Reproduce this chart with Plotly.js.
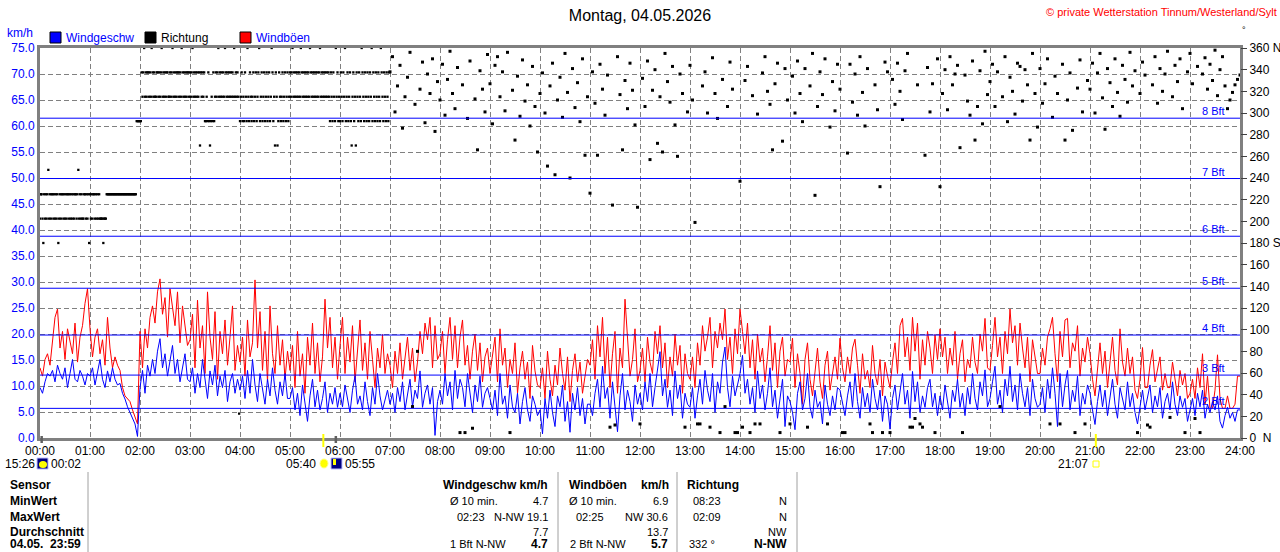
<!DOCTYPE html>
<html><head><meta charset="utf-8">
<script src="https://cdn.plot.ly/plotly-3.0.1.min.js"></script>
<style>html,body{margin:0;padding:0;background:#fff;overflow:hidden}#chart{width:1280px;height:552px}</style>
</head><body><div id="chart"></div>
<script>
// ---------------- data ----------------
const sampleStepMin = 3;          // wind speed / gust / late direction sampling (minutes)
const speedKmh = [
9.7,8.6,10.8,12.4,11.9,13.0,10.8,14.0,12.4,11.3,13.5,9.7,12.4,15.1,11.3,10.8,13.0,11.9,10.2,12.4,
11.9,13.5,10.2,12.4,15.1,11.3,9.7,12.9,10.8,13.5,11.3,10.2,10.5,8.6,7.5,6.0,4.8,3.8,2.7,0.3,
9.7,13.0,8.6,14.0,11.9,15.1,12.4,16.7,19.1,13.5,16.2,11.9,14.6,17.8,12.4,15.1,10.8,13.5,16.2,11.3,
10.8,13.5,8.6,12.4,9.7,15.1,11.3,7.6,12.9,10.2,14.0,8.1,11.9,9.7,13.0,7.0,10.8,12.4,8.6,11.3,
9.2,11.9,7.6,13.0,8.6,15.1,10.2,7.0,12.4,9.7,6.5,11.3,8.1,13.5,9.2,6.5,10.8,8.1,12.4,7.6,
7.6,9.7,5.4,8.6,4.3,10.2,6.5,3.2,8.1,11.3,6.0,9.2,5.4,7.6,10.8,4.9,8.6,6.5,9.7,5.9,
8.6,6.0,10.2,7.6,4.9,9.2,11.9,6.5,8.1,5.4,10.8,7.0,4.3,9.7,6.5,12.4,8.1,5.4,7.6,9.2,
6.5,8.6,4.9,9.7,7.0,10.8,5.4,8.1,11.3,6.0,9.2,7.6,12.9,5.9,8.6,10.2,6.5,9.7,0.5,7.0,
9.2,6.5,12.4,8.1,10.8,5.4,13.0,7.6,11.3,9.7,6.0,12.4,8.6,4.9,10.2,7.0,11.9,5.9,8.6,9.7,
7.6,5.4,9.2,4.3,12.4,6.5,8.1,3.8,10.2,6.0,4.9,8.6,2.7,7.0,9.7,5.4,3.2,8.1,6.5,4.3,
5.4,0.8,7.6,3.8,9.2,4.9,2.2,8.1,6.0,10.2,3.2,7.0,1.1,8.6,5.4,9.7,4.3,7.6,2.7,6.5,
6.5,4.3,8.6,11.3,5.9,13.8,7.6,9.7,3.8,10.8,6.0,1.2,8.1,12.4,5.4,9.2,7.0,3.2,10.2,6.5,
8.6,5.4,10.8,7.0,12.4,6.0,9.7,13.5,16.6,8.1,11.3,5.9,9.2,4.3,12.9,7.6,10.2,3.8,8.6,6.5,
5.9,9.7,3.8,8.1,11.3,6.5,13.0,9.2,7.0,12.4,4.9,10.8,8.6,14.6,17.5,9.7,6.0,11.9,8.1,10.2,
12.4,15.9,8.6,11.3,6.5,9.7,4.9,12.9,7.6,10.2,5.4,8.6,13.5,6.0,9.2,3.8,7.6,11.3,2.2,8.1,
7.0,4.9,1.6,8.6,10.8,5.4,7.6,12.4,6.0,3.8,9.2,5.9,7.0,2.7,10.2,6.5,4.3,8.1,5.4,9.7,
9.2,6.5,4.3,8.1,10.8,5.9,12.4,7.0,3.8,9.7,6.0,8.6,4.9,11.3,7.6,5.4,9.2,3.2,8.1,6.5,
1.7,7.6,10.2,5.4,8.6,12.4,6.5,9.2,3.8,12.8,7.0,10.8,4.9,8.1,5.9,9.7,11.3,6.0,8.6,4.3,
8.1,5.4,10.2,6.5,3.8,9.2,7.0,11.3,5.9,8.6,4.3,9.7,6.5,12.4,7.6,5.4,10.8,8.1,13.1,6.0,
7.6,10.8,13.8,6.5,9.2,4.9,11.3,8.1,13.8,7.0,10.2,5.4,12.4,8.6,6.0,9.7,4.3,11.3,7.6,5.9,
6.5,9.7,4.9,11.3,7.6,13.5,8.6,2.2,12.4,6.0,10.2,13.0,5.4,9.2,7.0,11.9,4.3,8.6,6.5,10.2,
8.6,5.4,2.6,7.0,10.2,6.0,9.2,4.3,8.1,11.3,6.5,3.8,9.7,7.6,5.4,10.8,6.0,8.6,4.9,2.7,
6.5,9.2,5.4,7.6,10.2,4.9,8.1,6.0,9.7,3.8,7.0,8.6,5.4,10.8,6.5,4.3,8.1,5.9,7.6,3.2,
5.4,7.6,4.3,8.6,6.0,9.2,3.8,6.5,4.9,7.0,5.4,8.1,3.2,1.9,4.3,5.9,3.8,4.9,3.2,5.4,
5.4];
const gustKmh = [
13.5,11.9,15.1,16.2,14.0,19.4,23.2,24.8,17.3,20.5,15.1,21.0,18.3,16.2,22.1,14.6,19.4,21.6,25.9,28.7,
21.0,15.6,19.4,21.0,16.2,18.9,14.0,23.2,17.3,13.5,15.6,14.0,13.0,9.7,8.1,7.6,7.0,5.4,3.8,2.7,
20.5,13.5,21.0,17.3,23.2,25.4,22.1,28.1,30.6,23.8,27.0,19.4,28.7,24.8,21.6,28.1,18.3,25.4,21.6,17.8,
18.9,23.8,13.5,26.5,17.3,21.6,12.4,28.1,19.4,15.1,24.3,11.3,20.5,16.2,22.7,14.0,19.4,25.4,13.0,17.8,
14.6,19.4,11.9,22.7,15.6,18.3,30.4,17.3,24.3,13.0,20.5,10.8,25.4,16.2,12.4,21.6,14.0,18.9,11.3,16.7,
13.0,17.8,9.7,20.5,11.9,16.2,8.6,19.4,14.0,22.1,12.4,18.3,10.8,15.6,26.7,17.3,23.2,13.5,19.4,11.3,
17.8,23.2,12.4,19.4,14.6,21.6,10.8,16.7,22.7,13.0,18.3,11.3,20.5,15.1,9.7,17.3,13.5,19.9,12.4,16.2,
14.0,9.7,16.7,12.4,18.3,11.3,15.6,19.4,13.0,17.3,10.8,14.6,20.5,16.2,22.1,18.9,23.2,13.5,21.6,15.1,
16.2,20.5,12.4,18.9,23.2,15.1,21.6,13.5,19.4,22.7,14.0,17.8,11.3,16.7,20.0,13.0,18.3,10.8,15.6,17.3,
12.4,16.2,19.4,10.8,21.0,14.0,17.3,9.7,15.1,12.4,18.3,8.6,13.5,16.7,11.3,14.6,7.6,17.8,12.9,10.2,
9.7,13.5,7.6,16.7,11.3,8.1,14.0,10.2,17.3,12.4,9.2,15.6,7.0,13.0,16.2,10.8,14.6,8.6,12.4,15.1,
14.0,18.9,11.3,21.6,15.6,23.2,12.4,19.4,9.7,16.2,20.5,8.6,17.3,13.5,26.7,18.3,11.9,15.1,21.0,10.8,
13.0,17.3,10.8,19.4,14.6,12.4,20.5,16.2,21.6,13.5,18.3,9.7,15.6,11.9,20.0,14.0,17.8,8.6,16.2,12.4,
11.3,15.6,9.7,18.3,14.0,21.6,16.7,19.4,23.2,13.5,20.5,17.3,22.1,18.9,24.8,15.1,19.4,12.4,21.0,16.2,
24.8,20.5,16.2,22.1,13.5,18.9,11.3,20.0,14.6,17.3,10.8,15.6,21.6,13.0,18.3,9.7,16.7,19.4,11.9,15.1,
14.6,19.2,9.7,16.2,12.4,6.5,15.1,18.3,11.3,8.1,13.5,17.3,10.8,7.6,14.0,16.7,9.2,12.9,15.6,11.3,
19.2,13.5,10.8,15.6,12.4,17.3,19.0,14.0,8.6,16.2,11.3,13.0,9.7,17.8,12.4,10.2,15.1,8.1,14.6,11.9,
9.7,14.6,18.3,12.4,21.6,23.0,15.6,19.4,13.0,23.2,16.7,22.1,11.3,18.9,14.0,20.5,17.3,12.4,19.9,15.1,
21.0,15.6,19.4,12.4,17.3,14.0,20.5,11.3,16.2,18.9,10.8,15.1,13.5,19.4,14.6,12.4,20.0,16.7,23.0,13.5,
13.0,17.8,23.2,15.6,19.4,12.4,20.5,16.2,24.8,18.3,21.6,14.0,22.1,17.3,13.5,19.4,10.8,18.9,15.1,12.4,
12.4,17.3,14.0,19.4,21.0,23.2,16.2,10.8,20.5,15.6,22.7,23.0,13.5,18.3,16.7,21.6,11.9,17.3,14.6,19.4,
16.2,11.3,8.1,14.0,18.3,12.4,16.7,9.7,15.1,19.4,13.0,10.2,21.0,14.6,11.9,17.3,12.4,15.6,9.2,7.6,
11.3,17.4,9.7,9.7,14.0,17.0,10.8,13.5,15.6,9.2,12.4,9.7,9.7,14.6,11.3,8.1,13.0,10.2,12.4,7.6,
8.6,11.3,7.6,13.5,9.7,16.2,6.5,11.9,5.7,5.7,9.2,16.0,7.6,5.7,5.7,8.1,5.7,5.7,6.5,11.9,
11.9];
// wind direction 00:00-06:59, one value per minute, as compass sector (1 sector = 22.5 deg, 16 = N)
const dirEarlySector = [
9,10,10,9,8,10,9,10,9,10,11,9,10,9,10,10,9,10,9,10,9,10,8,9,10,9,10,10,9,10,
9,10,9,10,10,9,10,9,10,9,10,9,10,10,9,10,11,9,10,9,10,9,9,10,10,9,10,9,10,8,
10,9,10,9,10,10,9,10,9,10,9,10,9,9,9,9,8,9,9,9,10,10,10,10,10,10,10,10,10,10,
10,10,10,10,10,10,10,10,10,10,10,10,10,10,10,10,10,10,10,10,10,10,10,10,10,10,13,13,13,13,
13,13,15,14,15,16,14,15,14,15,15,14,15,14,16,15,14,15,14,14,15,15,14,15,14,15,16,14,15,14,
15,14,15,15,14,14,15,14,15,16,14,15,14,15,14,15,15,14,15,14,16,15,14,15,14,15,14,15,15,14,
15,14,15,16,14,15,14,15,14,15,14,15,12,15,14,15,14,15,13,13,14,13,15,13,12,13,14,13,15,13,
14,15,14,15,16,14,15,14,15,14,15,14,16,15,14,15,14,15,14,15,14,15,14,16,14,15,14,15,14,1,
13,14,15,13,14,13,15,14,13,16,14,13,15,14,13,14,15,13,14,15,13,14,15,16,13,14,15,13,14,15,
13,14,15,13,14,15,13,14,16,15,13,14,12,15,14,12,13,15,14,13,14,15,13,14,15,13,14,15,13,14,
15,14,15,16,14,15,14,15,14,15,14,15,14,16,15,14,15,14,15,14,15,14,15,14,16,15,14,15,14,15,
14,15,14,15,14,15,16,14,15,14,15,14,15,14,15,14,15,14,13,15,14,13,15,14,13,16,14,15,13,14,
13,15,14,13,15,14,16,13,14,15,13,14,15,13,12,14,15,13,14,12,15,14,13,15,14,13,16,15,14,13,
15,14,13,15,14,13,15,14,16,13,15,14,13,15,14,13,15,14,13,16,15,14,13,15,14,13,15,14,13,15];
const dirLateStartHour = 7;
// wind direction from 07:00, every 3 minutes, degrees
const dirLateDeg = [
338,352,301,325,344,286,315,333,356,29,308,80,322,347,291,336,318,350,283,329,
312,345,298,331,357,318,304,342,5,326,5,295,348,9,313,266,339,322,301,354,
327,290,344,352,315,338,302,356,5,321,275,334,297,349,311,326,288,343,306,264,
318,337,300,251,325,346,243,312,333,296,355,319,240,341,305,328,292,350,261,315,
226,338,309,261,345,322,298,335,10,215,12,352,317,266,330,304,346,321,289,213,
13,332,306,348,257,321,340,272,315,264,355,329,310,343,289,260,336,318,10,301,
344,312,199,13,13,325,338,300,10,351,318,295,5,331,29,306,347,322,5,5,
237,10,330,343,5,316,13,299,13,337,352,320,308,266,327,346,5,274,341,312,
13,334,300,348,318,292,341,10,325,355,224,306,338,317,350,13,287,329,302,345,
322,5,5,263,345,310,336,298,352,319,288,341,13,5,326,303,232,5,347,338,
5,331,308,346,320,294,339,355,10,10,18,326,13,10,261,342,301,327,5,350,
232,318,340,303,352,326,336,344,268,5,335,311,298,348,275,306,339,290,357,317,
329,345,306,338,29,315,352,292,333,320,299,346,343,311,340,326,275,355,318,287,
341,309,327,350,13,296,334,318,13,345,275,312,337,284,5,323,349,301,13,330,
322,346,300,337,355,314,285,341,328,306,350,319,297,344,331,310,356,325,339,5,
318,347,335,12,10,326,352,309,341,320,336,357,19,315,344,329,350,304,5,338,
355,327,18,343,5,336,351,322,345,330,358,316,340,352,325,304,312,319,326,331,
335];
const hourTicks = [0,1,2,3,4,5,6,7,8,9,10,11,12,13,14,15,16,17,18,19,20,21,22,23,24];
const hourLabels = ["00:00","01:00","02:00","03:00","04:00","05:00","06:00","07:00","08:00","09:00","10:00","11:00","12:00","13:00","14:00","15:00","16:00","17:00","18:00","19:00","20:00","21:00","22:00","23:00","24:00"];
const speedTicks = [0,5,10,15,20,25,30,35,40,45,50,55,60,65,70,75];
const dirTicks = [0,20,40,60,80,100,120,140,160,180,200,220,240,260,280,300,320,340,360];
const dirLabels = ["0  N","20","40","60","80","100","120","140","160","180 S","200","220","240","260","280","300","320","340","360 N"];
const bftKmh = [5.7,12.1,19.8,28.8,38.8,49.9,61.5];
const bftLabels = ["2 Bft","3 Bft","4 Bft","5 Bft","6 Bft","7 Bft","8 Bft"];
const sunEvents = [{h:5+40/60, label:"05:40"},{h:21+7/60, label:"21:07"}];
const moonEvents = [{h:2/60, label:"00:02"},{h:5+55/60, label:"05:55"}];
const legendNames = ["Windgeschw","Richtung","Windböen"];
const table = {
  rowLabels:["Sensor","MinWert","MaxWert","Durchschnitt","04.05.  23:59"],
  speed:{head:"Windgeschw km/h", left:["Ø 10 min.","02:23","","1 Bft N-NW"], right:["4.7","N-NW 19.1","7.7","4.7"]},
  gust:{head:"Windböen", unit:"km/h", left:["Ø 10 min.","02:25","","2 Bft N-NW"], right:["6.9","NW 30.6","13.7","5.7"]},
  dir:{head:"Richtung", left:["08:23","02:09","","332 °"], right:["N","N","NW","N-NW"]}
};

// ---------------- build ----------------
const F = "Liberation Sans, Arial, sans-serif";
const PL=40, PR=1240, PT=48, PB=438;
const px = x => (x-PL)/(PR-PL);
const py = y => (PB-y)/(PB-PT);

const tWind = speedKmh.map((_,i)=> i*sampleStepMin/60);
const tDirEarly = dirEarlySector.map((_,i)=> i/60);
const dirEarlyDeg = dirEarlySector.map(s=> s*22.5);
const tDirLate = dirLateDeg.map((_,i)=> dirLateStartHour + i*sampleStepMin/60);

const traces = [
  {x:tWind, y:gustKmh, type:'scatter', mode:'lines', line:{color:'#FF0000', width:1}, name:legendNames[2], hoverinfo:'skip'},
  {x:tWind, y:speedKmh, type:'scatter', mode:'lines', line:{color:'#0000FF', width:1}, name:legendNames[0], hoverinfo:'skip'},
  {x:tDirEarly, y:dirEarlyDeg, yaxis:'y2', type:'scatter', mode:'markers',
   marker:{symbol:'square', size:2.3, color:'#000', line:{width:0}}, name:legendNames[1], hoverinfo:'skip'},
  {x:tDirLate, y:dirLateDeg, yaxis:'y2', type:'scatter', mode:'markers',
   marker:{symbol:'square', size:3, color:'#000', line:{width:0}}, name:legendNames[1], hoverinfo:'skip'}
];

const shapes = [];
const ann = [];
function T(x,y,text,o){o=o||{};ann.push({xref:'paper',yref:'paper',x:px(x),y:py(y),text:text,showarrow:false,
  xanchor:o.a||'left',yanchor:'middle',font:{family:F,size:o.s||11,color:o.c||'#000'}});}

bftKmh.forEach((v,i)=>{
  shapes.push({type:'line',xref:'paper',x0:0,x1:1,yref:'y',y0:v,y1:v,line:{color:'#0000FF',width:1},layer:'above'});
  ann.push({xref:'paper',yref:'y',x:px(1227),y:v,text:bftLabels[i],showarrow:false,xanchor:'right',yanchor:'bottom',
    yshift:-1,font:{family:F,size:11,color:'#0000FF'}});
});

// sun / moon markers
sunEvents.forEach(e=>{
  shapes.push({type:'rect',xref:'x',x0:e.h-0.02,x1:e.h+0.02,yref:'paper',y0:py(447),y1:py(434),fillcolor:'#FFFF00',line:{width:0},layer:'above'});
});
moonEvents.forEach(e=>{
  shapes.push({type:'rect',xref:'x',x0:e.h-0.025,x1:e.h+0.025,yref:'paper',y0:py(443),y1:py(436),fillcolor:'#606060',line:{width:0},layer:'above'});
});
// icons row
shapes.push({type:'rect',xref:'paper',yref:'paper',x0:px(37),x1:px(48),y0:py(469),y1:py(458),fillcolor:'#000080',line:{color:'#c0c0ff',width:1}});
shapes.push({type:'circle',xref:'paper',yref:'paper',x0:px(39),x1:px(47),y0:py(468),y1:py(461),fillcolor:'#FFFF00',line:{width:0}});
shapes.push({type:'circle',xref:'paper',yref:'paper',x0:px(320),x1:px(328),y0:py(468),y1:py(459),fillcolor:'#FFFF00',line:{color:'#ffff80',width:1}});
shapes.push({type:'rect',xref:'paper',yref:'paper',x0:px(331),x1:px(342),y0:py(469),y1:py(458),fillcolor:'#000080',line:{color:'#c0c0ff',width:1}});
shapes.push({type:'rect',xref:'paper',yref:'paper',x0:px(333),x1:px(336),y0:py(465),y1:py(459),fillcolor:'#FFFF00',line:{width:0}});
shapes.push({type:'rect',xref:'paper',yref:'paper',x0:px(1093),x1:px(1099),y0:py(467),y1:py(461),fillcolor:'rgba(0,0,0,0)',line:{color:'#FFFF00',width:1}});
T(37,464,"15:26",{a:'right',s:12});
T(49,464,"00:02",{s:12});
T(318,464,"05:40",{a:'right',s:12});
T(343,464,"05:55",{s:12});
T(1090,464,"21:07",{a:'right',s:12});

// legend
const legColors = ['#0000FF','#000000','#FF0000'];
const legX = [50,145,240];
const legTextColors = ['#0000FF','#000000','#0000FF'];
legendNames.forEach((n,i)=>{
  shapes.push({type:'rect',xref:'paper',yref:'paper',x0:px(legX[i]),x1:px(legX[i]+11),y0:py(43),y1:py(32),fillcolor:legColors[i],line:{color:'#000',width:1}});
  T(legX[i]+14,38,n,{c:legTextColors[i],s:12});
});
T(5,33,"km/h",{c:'#0000FF',s:12});
T(1279,12,"© private Wetterstation Tinnum/Westerland/Sylt",{a:'right',c:'#FF0000',s:11});
T(1244,30,"°",{a:'center',s:9});

// table
const rowsY = [485,501,517,532,544];
table.rowLabels.forEach((r,i)=> T(8,rowsY[i],"<b>"+r+"</b>",{s:12}));
[88,558,677,797].forEach(x=> shapes.push({type:'line',xref:'paper',yref:'paper',x0:px(x),x1:px(x),y0:py(472),y1:py(556),line:{color:'#a0a0a0',width:1}}));
T(550,rowsY[0],"<b>"+table.speed.head+"</b>",{a:'right',s:12});
T(567,rowsY[0],"<b>"+table.gust.head+"</b>",{s:12});
T(671,rowsY[0],"<b>"+table.gust.unit+"</b>",{a:'right',s:12});
T(685,rowsY[0],"<b>"+table.dir.head+"</b>",{s:12});
const lx = {speed:[448,455,455,448], gust:[567,574,574,568], dir:[691,691,691,687]};
for(let r=0;r<4;r++){
  const y=rowsY[r+1], last=(r===3);
  if(table.speed.left[r]) T(lx.speed[r],y,table.speed.left[r]);
  T(550,y,last?"<b>"+table.speed.right[r]+"</b>":table.speed.right[r],{a:'right',s:last?12:11});
  if(table.gust.left[r]) T(lx.gust[r],y,table.gust.left[r]);
  T(670,y,last?"<b>"+table.gust.right[r]+"</b>":table.gust.right[r],{a:'right',s:last?12:11});
  if(table.dir.left[r]) T(lx.dir[r],y,table.dir.left[r]);
  T(789,y,last?"<b>"+table.dir.right[r]+"</b>":table.dir.right[r],{a:'right',s:last?12:11});
}

const layout = {
  width:1280, height:552,
  margin:{l:PL, r:1280-PR, t:PT, b:552-PB, pad:0},
  paper_bgcolor:'#fff', plot_bgcolor:'#fff', showlegend:false,
  font:{family:F, size:12, color:'#000'},
  title:{text:'Montag, 04.05.2026', font:{family:F,size:16,color:'#000'}, x:0.5, xref:'paper', y:1-15/552, yref:'container', yanchor:'middle'},
  xaxis:{range:[0,24], tickvals:hourTicks, ticktext:hourLabels, ticks:'', showgrid:true, gridcolor:'#808080', griddash:'5px,3px', gridwidth:1,
    showline:true, linecolor:'#808080', linewidth:3, mirror:true, zeroline:false, tickfont:{family:F,size:12,color:'#000'}, fixedrange:true},
  yaxis:{range:[0,75], tickvals:speedTicks, tickformat:'.1f', ticks:'', showgrid:true, gridcolor:'#808080', griddash:'5px,3px', gridwidth:1,
    showline:true, linecolor:'#808080', linewidth:3, mirror:true, zeroline:false, tickfont:{family:F,size:12,color:'#0000FF'}, fixedrange:true},
  yaxis2:{range:[0,360], overlaying:'y', side:'right', anchor:'x', tickvals:dirTicks, ticktext:dirLabels, ticks:'outside', ticklen:6,
    tickcolor:'#404040', showgrid:false, showline:false, zeroline:false, tickfont:{family:F,size:12,color:'#000'}, fixedrange:true},
  shapes:shapes, annotations:ann
};
Plotly.newPlot('chart', traces, layout, {staticPlot:true, displayModeBar:false});
</script></body></html>
